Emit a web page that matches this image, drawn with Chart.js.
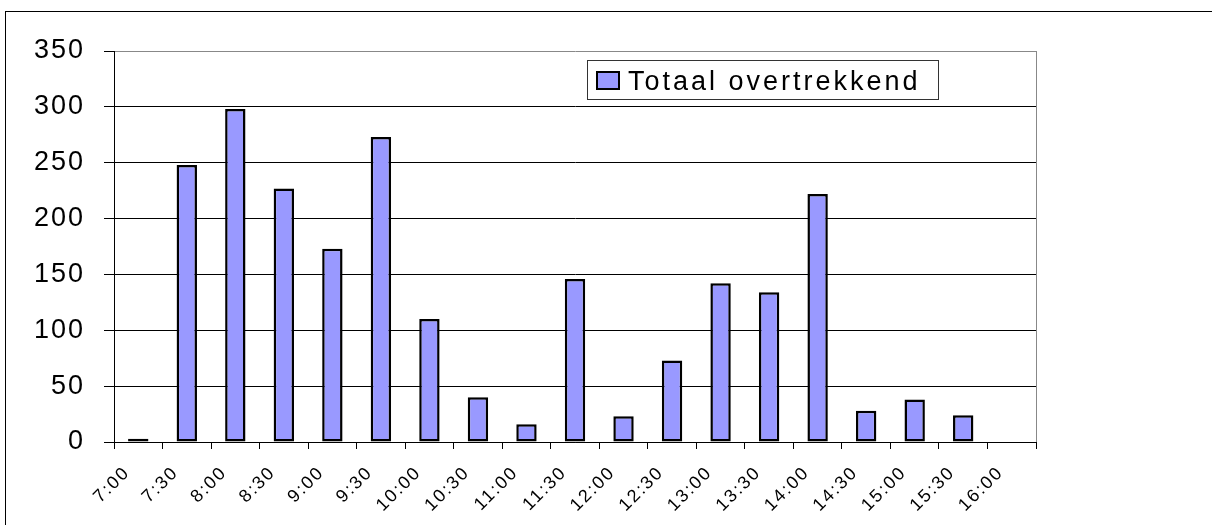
<!DOCTYPE html>
<html>
<head>
<meta charset="utf-8">
<script src="https://cdn.jsdelivr.net/npm/chart.js@4.4.1/dist/chart.umd.min.js"></script>
<style>
    html, body { margin: 0; padding: 0; background: #fff; overflow: hidden; }
    #wrap { width: 1212px; height: 525px; position: relative; }
</style>
</head>
<body>
<div id="wrap"><canvas id="myChart"></canvas></div>
<script>
// half-hour slots
const times = ["7:00", "7:30", "8:00", "8:30", "9:00", "9:30", "10:00", "10:30", "11:00", "11:30",
    "12:00", "12:30", "13:00", "13:30", "14:00", "14:30", "15:00", "15:30", "16:00"];
const totals = [3, 248, 298, 227, 173, 273, 110, 40, 16, 146, 23, 73, 142, 134, 222, 28, 38, 24, null];
const yTicks = [0, 50, 100, 150, 200, 250, 300, 350];
const seriesLabel = "Totaal overtrekkend";

const FONT = "'Liberation Sans', Arial, sans-serif";

// white background, outer frame, plot border and the boxed legend
const excelLook = {
    id: "excelLook",
    beforeDraw(chart) {
        const ctx = chart.ctx;
        ctx.save();
        ctx.fillStyle = "#fff";
        ctx.fillRect(0, 0, chart.width, chart.height);
        ctx.restore();
        ctx.letterSpacing = "2px";
    },
    afterDatasetsDraw(chart) {
        const { ctx, chartArea } = chart;
        ctx.save();
        ctx.strokeStyle = "#888";
        ctx.lineWidth = 1;
        ctx.beginPath();
        ctx.moveTo(Math.round(chartArea.right) + 0.5, chartArea.top);
        ctx.lineTo(Math.round(chartArea.right) + 0.5, chartArea.bottom);
        ctx.stroke();
        ctx.restore();
    },
    afterDraw(chart) {
        const ctx = chart.ctx;
        const ds = chart.data.datasets[0];
        ctx.save();
        // outer frame
        ctx.strokeStyle = "#000";
        ctx.lineWidth = 1;
        ctx.strokeRect(5.5, 11.5, 1400, 600);
        // legend box
        ctx.fillStyle = "#fff";
        ctx.fillRect(587, 60, 351, 39);
        ctx.strokeStyle = "#333";
        ctx.strokeRect(587.5, 60.5, 351, 39);
        // swatch
        ctx.fillStyle = ds.backgroundColor;
        ctx.fillRect(597, 72, 22, 17);
        ctx.strokeStyle = "#000";
        ctx.lineWidth = 2;
        ctx.strokeRect(597, 72, 22, 17);
        // label
        ctx.letterSpacing = "3px";
        ctx.fillStyle = "#000";
        ctx.font = "27px " + FONT;
        ctx.textBaseline = "alphabetic";
        ctx.textAlign = "left";
        ctx.fillText(ds.label, 628, 90);
        ctx.restore();
    }
};

const ctx = document.getElementById("myChart").getContext("2d");
new Chart(ctx, {
    type: "bar",
    data: {
        labels: times,
        datasets: [
            {
                label: seriesLabel,
                data: totals,
                backgroundColor: "#9999ff",
                borderColor: "#000",
                borderWidth: 2.5,
                borderSkipped: false,
                barPercentage: 0.42,
                categoryPercentage: 1,
            },
        ],
    },
    options: {
        responsive: true,
        maintainAspectRatio: false,
        animation: false,
        layout: { padding: { top: 51, right: 176, left: 0, bottom: 0 } },
        plugins: {
            legend: { display: false },
            title: { display: false },
            tooltip: { enabled: false },
        },
        scales: {
            x: {
                afterFit(scale) { scale.height = 83; },
                grid: {
                    offset: true,
                    drawOnChartArea: false,
                    tickLength: 7,
                    tickColor: "#000",
                },
                border: { color: "#000", width: 1 },
                ticks: {
                    minRotation: 45,
                    maxRotation: 45,
                    autoSkip: false,
                    padding: 13,
                    labelOffset: -11,
                    color: "#000",
                    font: { family: FONT, size: 18 },
                },
            },
            y: {
                min: 0,
                max: 350,
                afterFit(scale) { scale.width = 114; },
                afterBuildTicks(scale) { scale.ticks = yTicks.map(v => ({ value: v })); },
                grid: {
                    color: c => (c.tick && c.tick.value === 350 ? "#888" : "#000"),
                    tickColor: "#000",
                    tickLength: 10,
                },
                border: { color: "#000", width: 1 },
                ticks: {
                    padding: 19,
                    color: "#000",
                    font: { family: FONT, size: 27 },
                },
            },
        },
    },
    plugins: [excelLook],
});
</script>
</body>
</html>
